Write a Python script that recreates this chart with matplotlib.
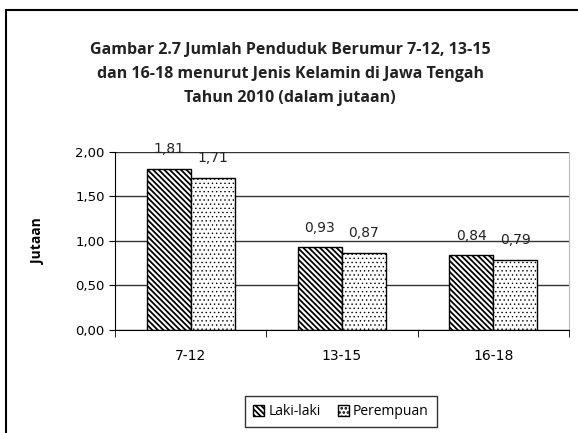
import matplotlib.pyplot as plt
import numpy as np
from matplotlib.patches import Rectangle

categories = ['7-12', '13-15', '16-18']
laki = [1.81, 0.93, 0.84]
perempuan = [1.71, 0.87, 0.79]
yticks = [0.0, 0.5, 1.0, 1.5, 2.0]

plt.rcParams['hatch.linewidth'] = 1.3

fig = plt.figure(figsize=(5.78, 4.33), dpi=100)
ax = fig.add_axes([0.199, 0.238, 0.785, 0.411])

x = np.arange(len(categories))
w = 0.29
b1 = ax.bar(x - w / 2, laki, w, color='white', edgecolor='black', hatch='\\\\\\\\\\\\', linewidth=1, label='Laki-laki')
b2 = ax.bar(x + w / 2, perempuan, w, color='white', edgecolor='black', hatch='....', linewidth=1, label='Perempuan')
for r in b2:
    if hasattr(r, 'set_hatch_linewidth'):
        r.set_hatch_linewidth(0.5)

for bars, vals in ((b1, laki), (b2, perempuan)):
    for r, v in zip(bars, vals):
        ax.annotate(f'{v:.2f}'.replace('.', ','), (r.get_x() + r.get_width() / 2, v),
                    xytext=(0, 9), textcoords='offset points',
                    ha='center', va='bottom', fontsize=10, color='#222222')

ax.set_xlim(-0.5, 2.5)
ax.set_ylim(0, 2.0)
ax.set_yticks(yticks)
ax.set_yticklabels([f'{t:.2f}'.replace('.', ',') for t in yticks], fontsize=9.5)
ax.set_xticks(x)
ax.set_xticklabels(categories, fontsize=10)
ax.set_xticks([-0.5, 0.5, 1.5, 2.5], minor=True)
ax.tick_params(axis='x', which='major', length=0, pad=14)
ax.tick_params(axis='x', which='minor', length=5, direction='out')
ax.tick_params(axis='y', length=4, direction='out')
ax.yaxis.grid(True, color='#333333', linewidth=1)
ax.set_axisbelow(True)
ax.spines['top'].set_visible(False)
ax.spines['right'].set_color('#bbbbbb')
ax.set_ylabel('Jutaan', fontsize=10, fontweight='bold', labelpad=22, family='Open Sans')

fig.text(0.502, 0.829, 'Gambar 2.7 Jumlah Penduduk Berumur 7-12, 13-15\n'
         'dan 16-18 menurut Jenis Kelamin di Jawa Tengah\nTahun 2010 (dalam jutaan)',
         ha='center', va='center', fontsize=11.5, fontweight='bold', linespacing=1.63,
         family='Open Sans', color='#222222')

leg = fig.legend(handles=[b1, b2], loc='upper center', bbox_to_anchor=(0.59, 0.086), ncol=2,
                 prop={'family': 'Open Sans', 'size': 10}, frameon=True, fancybox=False,
                 edgecolor='black', handlelength=0.8, handleheight=0.8, columnspacing=1.2,
                 handletextpad=0.3, borderpad=0.6, borderaxespad=0)
leg.get_frame().set_linewidth(1)

fig.patches.append(Rectangle((0.01, -0.05), 1.1, 1.027, transform=fig.transFigure,
                             fill=False, edgecolor='black', linewidth=1.5))

plt.savefig('out.png')
